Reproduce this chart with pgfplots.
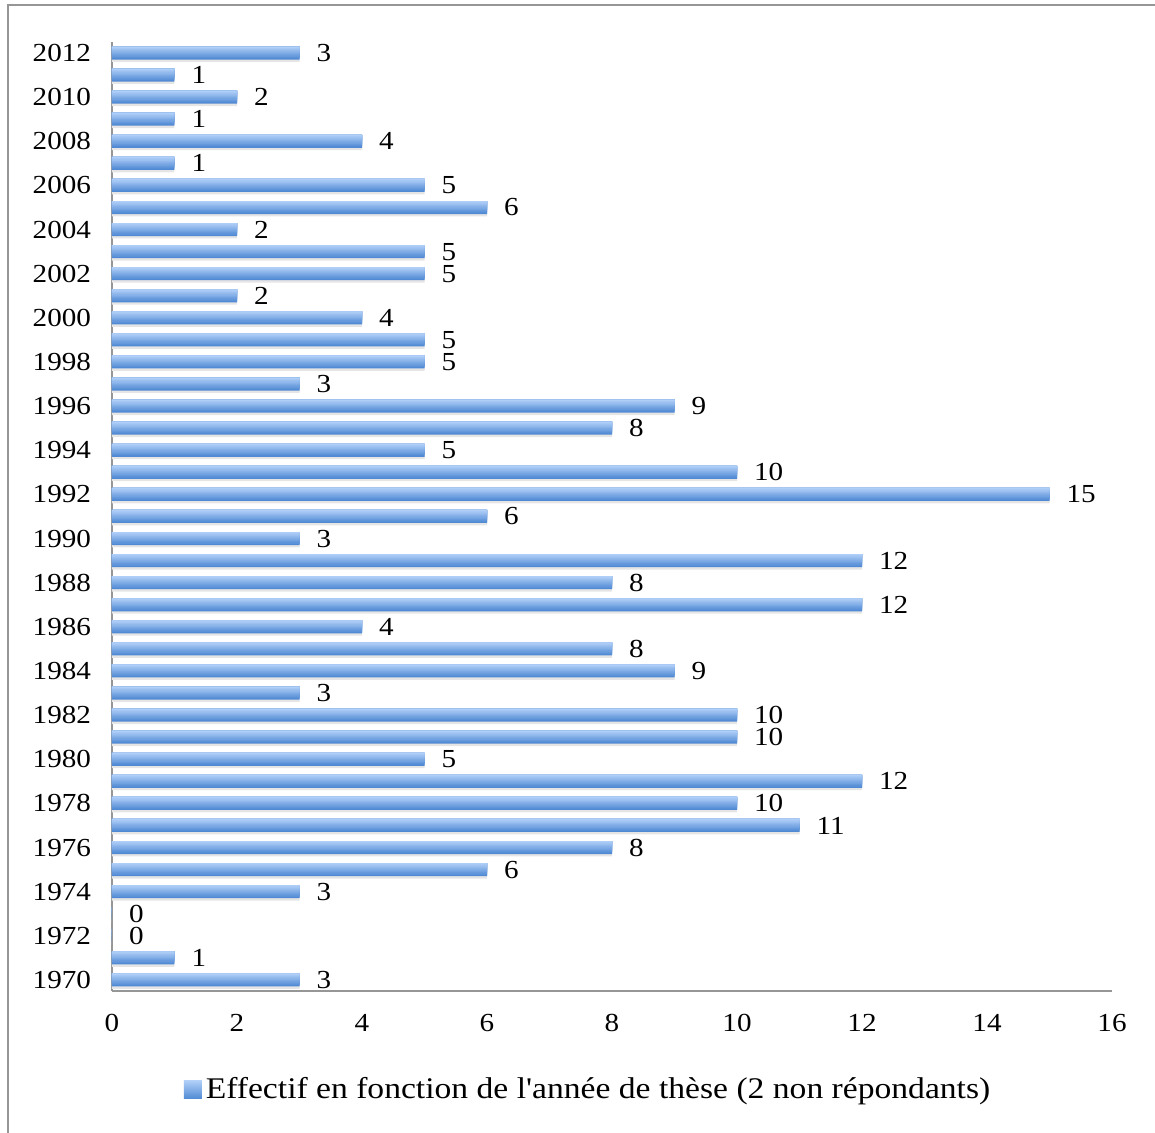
\documentclass[border=0pt]{standalone}
\usepackage{fontspec}
\setmainfont{Liberation Serif}[FakeStretch=1.12, Ligatures=TeXOff]
\usepackage{pgfplots}
\pgfplotsset{compat=1.18}
\usetikzlibrary{calc}

\definecolor{barTop}{RGB}{176,207,248}
\definecolor{barBot}{RGB}{80,138,212}
\definecolor{frameGray}{RGB}{150,150,150}

\pgfplotstableread{
year n
1970 3
1971 1
1972 0
1973 0
1974 3
1975 6
1976 8
1977 11
1978 10
1979 12
1980 5
1981 10
1982 10
1983 3
1984 9
1985 8
1986 4
1987 12
1988 8
1989 12
1990 3
1991 6
1992 15
1993 10
1994 5
1995 8
1996 9
1997 3
1998 5
1999 5
2000 4
2001 2
2002 5
2003 5
2004 2
2005 6
2006 5
2007 1
2008 4
2009 1
2010 2
2011 1
2012 3
}\theses

\begin{document}
\begin{tikzpicture}
\begin{axis}[
    name=ax,
    scale only axis,
    width=500pt, height=474.5pt,
    xbar,
    xmin=0, xmax=16,
    ymin=1969.5, ymax=2012.5,
    xtick={0,2,...,16},
    ytick={1970,1972,...,2012},
    major tick length=0pt,
    axis x line*=bottom, axis y line*=left,
    axis line style={frameGray, line width=0.75pt, -},
    font=\fontsize{13}{15}\selectfont,
    /pgf/number format/assume math mode=true,
    /pgf/number format/1000 sep={},
    yticklabel style={xshift=-7pt},
    xticklabel style={yshift=-8pt},
    legend style={draw=none, at={(0.477,-0.104)}, anchor=center,
        font=\fontsize{15}{17}\selectfont},
    legend image code/.code={\path[top color=barTop, bottom color=barBot]
        (0pt,-4.5pt) rectangle (9pt,4.5pt);},
]
% soft shadow under the bars
\addplot[draw=none, fill=black!10, bar width=6.5pt, bar shift=-1.2pt, forget plot]
    table[x=n, y=year] {\theses};
% bars as layers of decreasing height, aligned on the top edge, for the gradient
\pgfplotsinvokeforeach{0,...,9}{
  \addplot[draw=none, fill=barTop!\fpeval{round(#1*100/9)}!barBot,
      bar width=\fpeval{0.65*(10-#1)}pt,
      bar shift=\fpeval{3.25-0.325*(10-#1)}pt, forget plot]
      table[x=n, y=year] {\theses};
}
% value labels
\addplot[draw=none, fill=none, bar width=6.5pt, bar shift=0pt,
    nodes near coords,
    nodes near coords style={font=\fontsize{13}{15}\selectfont, xshift=5pt}]
    table[x=n, y=year] {\theses};
\addlegendentry{Effectif en fonction de l'année de thèse (2 non répondants)}
\end{axis}
\coordinate (O) at (ax.south west);
\draw[frameGray, line width=0.75pt] ($(O)+(-52pt,-71pt)$) -- ($(O)+(-52pt,493pt)$) -- ($(O)+(521.5pt,493pt)$);
\pgfresetboundingbox
\useasboundingbox ($(O)+(-56pt,-71pt)$) rectangle ($(O)+(521.5pt,495.5pt)$);
\end{tikzpicture}
\end{document}
